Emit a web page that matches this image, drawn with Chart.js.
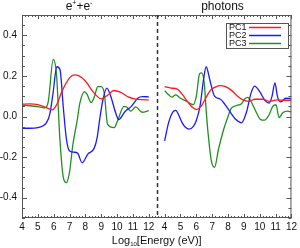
<!DOCTYPE html>
<html lang="en">
<head>
    <meta charset="UTF-8">
    <title>PC spectra</title>
    <style>
        body { margin: 0; background: #fff; }
        canvas { display: block; }
    </style>
    <script src="https://cdn.jsdelivr.net/npm/chart.js"></script>
</head>
<body>
    <canvas id="pc-chart" width="300" height="248"></canvas>

    <script>
        // Two panels share one x axis: the right panel (photons) is shifted by 9
        const panelOffset = 9;
        const yTickValues = [-0.4, -0.2, 0.0, 0.2, 0.4];
        const seriesLabels = ['PC1', 'PC2', 'PC3'];
        const seriesColors = ['#ff1a1a', '#1a1aff', '#1f8f1f'];

        // e+ + e- panel
        const pc1LeftX = [4, 4.5, 5, 5.5, 5.9, 6.2, 6.5, 7, 7.3, 7.6, 8, 8.5, 9, 9.4, 9.8, 10.2, 10.7, 11.1, 11.5, 12];
        const pc1LeftY = [0.061, 0.062, 0.058, 0.045, 0.033, 0.06, 0.12, 0.19, 0.205, 0.2, 0.175, 0.12, 0.087, 0.105, 0.128, 0.12, 0.097, 0.087, 0.083, 0.082];
        const pc2LeftX = [4, 4.5, 5, 5.3, 5.55, 5.75, 5.95, 6.2, 6.4, 6.6, 6.8, 7.0, 7.3, 7.5, 7.8, 8.15, 8.55, 8.75, 8.9, 9.1, 9.35, 9.6, 9.9, 10.1, 10.5, 10.9, 11.3, 11.6, 12];
        const pc2LeftY = [-0.058, -0.058, -0.055, -0.047, -0.03, 0.01, 0.11, 0.245, 0.23, 0.05, -0.11, -0.17, -0.176, -0.18, -0.228, -0.185, -0.157, -0.1, -0.015, 0.08, 0.14, 0.1, 0.02, -0.015, 0.025, 0.05, 0.09, 0.098, 0.097];
        const pc3LeftX = [4, 4.5, 5.1, 5.45, 5.66, 5.97, 6.18, 6.39, 6.6, 6.8, 7.0, 7.2, 7.5, 7.65, 7.95, 8.1, 8.36, 8.57, 8.78, 8.99, 9.19, 9.4, 9.82, 10.02, 10.44, 10.6, 10.86, 11.17, 11.58, 12];
        const pc3LeftY = [0.055, 0.053, 0.047, 0.042, 0.074, 0.281, 0.203, -0.111, -0.297, -0.326, -0.273, -0.144, -0.01, 0.066, 0.123, 0.11, 0.069, 0.098, 0.147, 0.147, 0.115, -0.039, -0.055, -0.023, 0.05, 0.047, 0.026, 0.047, 0.021, 0.029];

        // photons panel
        const pc1RightX = [4, 4.4, 4.8, 5.1, 5.5, 5.75, 6.0, 6.3, 6.6, 6.9, 7.2, 7.5, 7.8, 8.2, 8.6, 8.95, 9.3, 9.7, 10.2, 10.6, 11.1, 11.5, 12];
        const pc1RightY = [0.147, 0.14, 0.135, 0.11, 0.068, 0.045, 0.034, 0.05, 0.092, 0.13, 0.145, 0.152, 0.148, 0.13, 0.1, 0.082, 0.075, 0.085, 0.085, 0.075, 0.082, 0.08, 0.08];
        const pc2RightX = [4, 4.25, 4.5, 4.7, 4.9, 5.1, 5.3, 5.55, 5.8, 6.0, 6.25, 6.45, 6.62, 6.85, 7.15, 7.5, 7.8, 8.1, 8.5, 8.85, 9.15, 9.45, 9.67, 10.0, 10.3, 10.6, 10.77, 10.96, 11.12, 11.33, 11.64, 12];
        const pc2RightY = [-0.12, -0.03, 0.02, 0.03, 0.005, -0.03, -0.052, -0.062, -0.05, -0.02, 0.06, 0.18, 0.245, 0.18, 0.1, 0.086, 0.06, 0.026, -0.015, -0.031, 0.018, 0.115, 0.15, 0.123, 0.082, 0.066, 0.098, 0.166, 0.098, 0.072, 0.09, 0.088];
        const pc3RightX = [4, 4.25, 4.45, 4.7, 5.0, 5.4, 5.8, 6.0, 6.2, 6.33, 6.5, 6.62, 6.75, 6.95, 7.15, 7.4, 7.7, 8.0, 8.2, 8.5, 8.85, 9.05, 9.25, 9.45, 9.75, 10.05, 10.3, 10.6, 10.82, 11.02, 11.22, 11.45, 11.75, 12];
        const pc3RightY = [0.127, 0.107, 0.095, 0.107, 0.09, 0.074, 0.058, 0.1, 0.21, 0.215, 0.165, 0.03, -0.09, -0.22, -0.25, -0.16, -0.07, 0.0, 0.04, 0.053, 0.063, 0.086, 0.094, 0.074, 0.026, -0.015, -0.018, 0.01, 0.05, 0.058, -0.005, 0.018, 0.026, 0.023];

        const FONT = "'Liberation Sans', Arial, Helvetica, sans-serif";

        function buildSeries(lx, ly, rx, ry) {
            const pts = lx.map((x, i) => ({ x: x, y: ly[i] }));
            pts.push({ x: 12 + 0.5, y: null }); // break between panels
            rx.forEach((x, i) => pts.push({ x: x + panelOffset, y: ry[i] }));
            return pts;
        }

        const seriesData = [
            buildSeries(pc1LeftX, pc1LeftY, pc1RightX, pc1RightY),
            buildSeries(pc2LeftX, pc2LeftY, pc2RightX, pc2RightY),
            buildSeries(pc3LeftX, pc3LeftY, pc3RightX, pc3RightY)
        ];

        // draws text runs with super/subscripts, centred on cx
        function drawRuns(ctx, runs, cx, baseline) {
            let total = 0;
            runs.forEach(r => {
                ctx.font = `${r.size}px ${FONT}`;
                r.w = ctx.measureText(r.text).width;
                total += r.w;
            });
            let x = cx - total / 2;
            ctx.textAlign = 'left';
            ctx.textBaseline = 'alphabetic';
            runs.forEach(r => {
                ctx.font = `${r.size}px ${FONT}`;
                ctx.fillText(r.text, x, baseline + (r.dy || 0));
                x += r.w;
            });
        }

        const framePlugin = {
            id: 'frame',
            afterDraw(chart) {
                const { ctx, chartArea: a, scales } = chart;
                const xs = scales.x, ys = scales.y;
                ctx.save();

                // frame
                ctx.strokeStyle = '#555';
                ctx.lineWidth = 1;
                ctx.strokeRect(a.left + 0.5, a.top + 0.5, a.width - 1, a.height - 1);

                // inward tick marks, all four sides
                ctx.beginPath();
                for (let i = -10; i <= 10; i++) {
                    const py = Math.round(ys.getPixelForValue(i * 0.05)) + 0.5;
                    const len = i % 4 === 0 ? 5 : 3;
                    ctx.moveTo(a.left, py); ctx.lineTo(a.left + len, py);
                    ctx.moveTo(a.right, py); ctx.lineTo(a.right - len, py);
                }
                for (let i = 20; i <= 105; i++) {
                    const px = Math.round(xs.getPixelForValue(i * 0.2)) + 0.5;
                    const len = i % 5 === 0 ? 4 : 2;
                    ctx.moveTo(px, a.bottom); ctx.lineTo(px, a.bottom - len);
                    ctx.moveTo(px, a.top); ctx.lineTo(px, a.top + len);
                }
                ctx.stroke();

                // dashed panel divider
                const dx = Math.round(xs.getPixelForValue(12.5)) + 0.5;
                ctx.beginPath();
                ctx.setLineDash([4, 3]);
                ctx.strokeStyle = '#333';
                ctx.lineWidth = 1.5;
                ctx.moveTo(dx, a.top);
                ctx.lineTo(dx, a.bottom);
                ctx.stroke();
                ctx.setLineDash([]);

                // panel titles
                ctx.fillStyle = '#111';
                drawRuns(ctx, [
                    { text: 'e', size: 12 },
                    { text: '+', size: 7, dy: -5 },
                    { text: '+e', size: 12 },
                    { text: '-', size: 7, dy: -5 }
                ], xs.getPixelForValue(7.6), 10);
                drawRuns(ctx, [{ text: 'photons', size: 12 }], xs.getPixelForValue(16.65), 10);

                // x axis title
                drawRuns(ctx, [
                    { text: 'Log', size: 11 },
                    { text: '10', size: 6, dy: 2 },
                    { text: '[Energy (eV)]', size: 11 }
                ], (a.left + a.right) / 2, 244);

                // legend
                const lx = 226, ly = 23, lw = 62, lh = 25;
                ctx.fillStyle = '#fff';
                ctx.fillRect(lx, ly, lw, lh);
                ctx.strokeStyle = '#555';
                ctx.lineWidth = 1;
                ctx.strokeRect(lx + 0.5, ly + 0.5, lw, lh);
                ctx.font = `9px ${FONT}`;
                ctx.textBaseline = 'middle';
                chart.data.datasets.forEach((ds, i) => {
                    const rowY = ly + 4.5 + i * 8;
                    ctx.fillStyle = '#111';
                    ctx.fillText(ds.label, lx + 3, rowY);
                    ctx.strokeStyle = ds.borderColor;
                    ctx.lineWidth = 1.5;
                    ctx.beginPath();
                    ctx.moveTo(lx + 23, rowY);
                    ctx.lineTo(lx + 55, rowY);
                    ctx.stroke();
                });

                ctx.restore();
            }
        };

        document.addEventListener('DOMContentLoaded', () => {
            const canvas = document.getElementById('pc-chart');

            new Chart(canvas, {
                type: 'line',
                data: {
                    datasets: seriesLabels.map((label, i) => ({
                        label: label,
                        data: seriesData[i],
                        borderColor: seriesColors[i],
                        borderWidth: 1.3,
                        pointRadius: 0,
                        cubicInterpolationMode: 'monotone',
                        spanGaps: false,
                        fill: false
                    }))
                },
                options: {
                    responsive: false,
                    animation: false,
                    layout: { padding: { top: 15, right: 6, left: 0, bottom: 0 } },
                    plugins: {
                        legend: { display: false },
                        tooltip: { enabled: false }
                    },
                    scales: {
                        x: {
                            type: 'linear',
                            min: 4,
                            max: 21,
                            grid: { display: false, drawTicks: false },
                            border: { display: false },
                            ticks: {
                                stepSize: 1,
                                autoSkip: false,
                                maxRotation: 0,
                                padding: 3,
                                color: '#111',
                                font: { family: FONT, size: 10 },
                                callback: v => (v <= 12 ? v : v - panelOffset)
                            },
                            afterFit: scale => { scale.height = 30; }
                        },
                        y: {
                            min: -0.5,
                            max: 0.5,
                            grid: { display: false, drawTicks: false },
                            border: { display: false },
                            afterBuildTicks: scale => {
                                scale.ticks = yTickValues.map(v => ({ value: v }));
                            },
                            ticks: {
                                padding: 5,
                                color: '#111',
                                font: { family: FONT, size: 10 },
                                callback: v => v.toFixed(1)
                            },
                            afterFit: scale => { scale.width = 22; }
                        }
                    }
                },
                plugins: [framePlugin]
            });
        });
    </script>
</body>
</html>
